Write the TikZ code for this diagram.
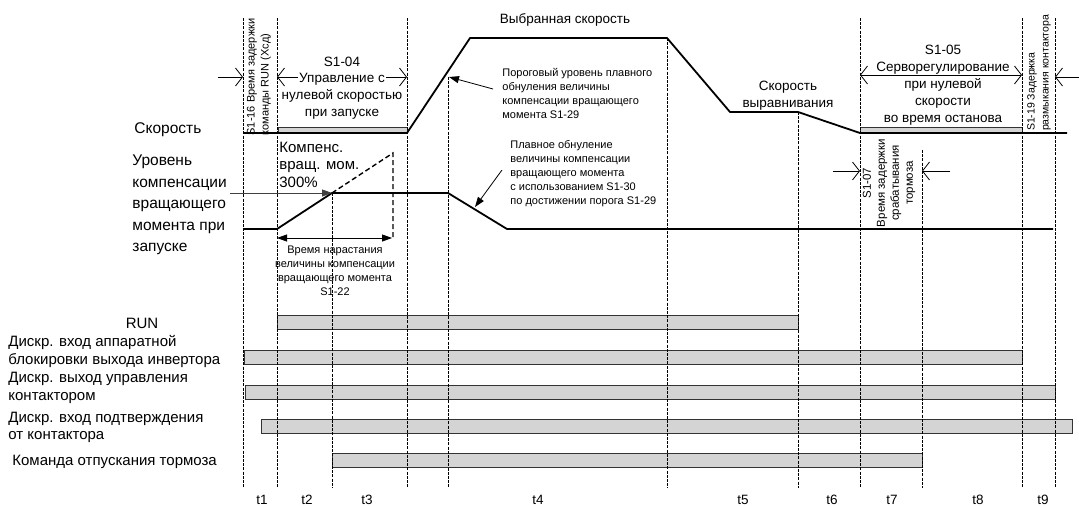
\documentclass[tikz,border=0pt]{standalone}
\usepackage{fontspec}
\setmainfont{Liberation Sans}
\usetikzlibrary{arrows.meta}

\begin{document}
\begin{tikzpicture}[x=1pt,y=-1pt,line width=0.8pt,>={Triangle[length=10pt,width=7pt]},
  font=\fontsize{15}{17.5}\selectfont,
  vline/.style={dash pattern=on 3pt off 1.2pt,line width=1pt},
  sig/.style={line width=1.8pt,line join=round},
  bar/.style={draw=black!80,fill=black!17,line width=1pt},
  barb/.style={-{Straight Barb[length=7pt,width=18pt]}},
  dbarb/.style={{Straight Barb[length=7pt,width=18pt]}-{Straight Barb[length=7pt,width=18pt]}},
  note/.style={font=\fontsize{11}{14}\selectfont,align=left,inner sep=0pt},
  mid/.style={font=\fontsize{13.5}{17}\selectfont,align=center,inner sep=0pt},
  lbl/.style={align=left,inner sep=0pt,anchor=west}]
  \useasboundingbox (0,0) rectangle (1079,506);
  % signal bars
  \draw[bar] (277,315) rectangle (798,329);
  \draw[bar] (244,350) rectangle (1022,364);
  \draw[bar] (245,385) rectangle (1055,399);
  \draw[bar] (261,419) rectangle (1072,433);
  \draw[bar] (332,453) rectangle (922,467);
  % speed
  \draw[bar,line width=0.8pt] (278,127) rectangle (407,133);
  \draw[bar,line width=0.8pt] (860,127) rectangle (1022,133);
  \coordinate (acc) at (470,38);
  \coordinate (dec) at (667,38);
  \coordinate (lev) at (730,112);
  \coordinate (levend) at (798,112);
  \draw[sig] (243,133) -- (407,133) -- (acc) -- (dec) -- (lev) -- (levend) -- (860,133) -- (1067,133);
  % torque compensation
  \coordinate (cross) at (332,193);
  \coordinate (thr) at (448,193);
  \draw[sig] (243,229) -- (277,229) -- (cross) -- (thr) -- (507,229) -- (1053,229);
  \draw[line width=1.4pt,dash pattern=on 5pt off 3pt] (cross) -- (393,153) -- (393,238);
  \draw[->,black!75] (230,193) -- (cross);
  \draw[<->] (277,238) -- (392,238);
  % time lines
  \foreach \x/\a in {243/18,277/18,332/193,407/18,448/77,667/38,798/112,860/18,922/150,1022/18,1055/18}
    \draw[vline] (\x,\a) -- (\x,488);
  \foreach \x/\n in {262/1,307/2,367/3,538/4,743/5,832/6,892/7,978/8,1043/9}
    \node[font=\fontsize{13.5}{15}\selectfont] (t\n) at (\x,500) {t\n};
  % left labels
  \node[lbl,font=\fontsize{15.5}{17}\selectfont] (speed) at (134,130) {Скорость};
  \node[lbl,font=\fontsize{15.5}{21.5}\selectfont] (tcomp) at (132,205) {Уровень\\компенсации\\вращающего\\момента при\\запуске};
  \node (run) at (142,323) {RUN};
  \node[lbl] (bb) at (8,351.5) {Дискр. вход аппаратной\\блокировки выхода инвертора};
  \node[lbl] (kout) at (8,388) {Дискр. выход управления\\контактором};
  \node[lbl] (kin) at (8,427.5) {Дискр. вход подтверждения\\от контактора};
  \node[lbl] (brk) at (12,462) {Команда отпускания тормоза};
  % delays
  \node[note,rotate=90] (d116) at (259,77) {S1-16 Время задержки\\команды RUN (Хсд)};
  \node[note,rotate=90,font=\fontsize{10.5}{14}\selectfont] (d119) at (1039,73) {S1-19 Задержка\\размыкания контактора};
  \node[note,rotate=90,align=center,font=\fontsize{11.5}{14}\selectfont] (d107) at (889,183) {S1-07\\Время задержки\\срабатывания\\тормоза};
  \draw[barb] (218,77) -- (243,77);
  \draw[barb] (1079,77) -- (1055,77);
  \draw[barb] (833,171) -- (860,171);
  \draw[barb] (950,171) -- (922,171);
  % S1-04
  \draw[dbarb] (277,77) -- (407,77);
  \node[mid] (s104) at (342,62) {S1-04};
  \node[mid,fill=white,inner sep=1pt] (s104a) at (342,79) {Управление с};
  \node[mid] (s104b) at (342,104.5) {нулевой скоростью\\при запуске};
  % S1-05
  \draw[dbarb] (860,75) -- (1022,75);
  \node[mid] (s105) at (943,50) {S1-05};
  \node[mid,fill=white,inner sep=1pt] (s105a) at (943,68) {Серворегулирование};
  \node[mid] (s105b) at (943,102) {при нулевой\\скорости\\во время останова};
  % speed texts
  \node[mid] (vsel) at (565,20) {Выбранная скорость};
  \node[mid] (vlev) at (788,96) {Скорость\\выравнивания};
  \node[mid,align=left,font=\fontsize{15}{17.5}\selectfont] (comp) at (279,164.5) [anchor=west] {Компенс.\\вращ. мом.\\300\%};
  % ramp
  \node[note,align=center] (s122) at (335,270.5) {Время нарастания\\величины компенсации\\вращающего момента\\S1-22};
  \node[note,anchor=west] (thrnote) at (502,93) {Пороговый уровень плавного\\обнуления величины\\компенсации вращающего\\момента S1-29};
  \draw[->] (493,89) -- (449,77);
  \node[note,anchor=west] (fadenote) at (510,174) {Плавное обнуление\\величины компенсации\\вращающего момента\\с использованием S1-30\\по достижении порога S1-29};
  \draw[->] (502,170) -- (475,207);
\end{tikzpicture}
\end{document}
